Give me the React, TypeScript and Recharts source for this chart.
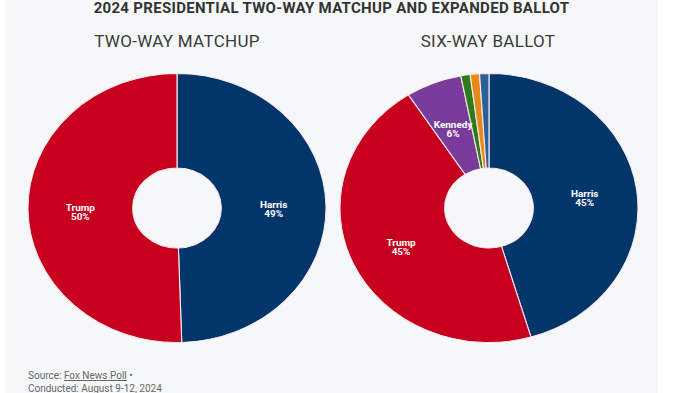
import { PieChart, Pie, Cell } from 'recharts';

const twoWayNames = ['Harris', 'Trump'];
const twoWayValues = [49, 50];
const twoWayColors = ['#02366b', '#c6001e'];

const sixWayNames = ['Harris', 'Trump', 'Kennedy', 'Stein', 'Oliver', 'West'];
const sixWayValues = [45, 45, 6, 1, 1, 1];
const sixWayColors = ['#02366b', '#c6001e', '#7a3c9a', '#2c7c1c', '#e5891b', '#2c6197'];

const RAD = Math.PI / 180;
const PANEL = '#f6f7f9';

function renderLabel(props: any) {
  const { cx, cy, midAngle, innerRadius, outerRadius, name, value } = props;
  if (value < 5) return null;
  const r = (innerRadius + outerRadius) / 2;
  const x = cx + r * Math.cos(-midAngle * RAD);
  const y = cy + r * Math.sin(-midAngle * RAD);
  const common = {
    x,
    textAnchor: 'middle' as const,
    fill: '#fff',
    fontSize: 9,
    fontWeight: 700,
    fontFamily: 'Roboto, sans-serif',
  };
  return (
    <g>
      <text {...common} y={y + 1.5}>{name}</text>
      <text {...common} y={y + 10.5}>{value}%</text>
    </g>
  );
}

function Donut({ names, values, colors, centerX }: { names: string[]; values: number[]; colors: string[]; centerX: number }) {
  const data = names.map((name, i) => ({ name, value: values[i] }));
  return (
    <div
      style={{
        position: 'absolute',
        left: centerX - 150,
        top: 67.5,
        width: 300,
        height: 280,
        transform: 'scaleX(1.108)',
        transformOrigin: '150px 140px',
      }}
    >
      <PieChart
        width={300}
        height={280}
        margin={{ top: 0, right: 0, bottom: 0, left: 0 }}
        style={{ overflow: 'visible' }}
      >
        <Pie
          data={data}
          dataKey="value"
          nameKey="name"
          cx={150}
          cy={140}
          innerRadius={40}
          outerRadius={134.5}
          startAngle={90}
          endAngle={-270}
          stroke="#fbe9ec"
          strokeWidth={1}
          label={renderLabel}
          labelLine={false}
          isAnimationActive={false}
        >
          {data.map((d, i) => (
            <Cell key={d.name} fill={colors[i]} />
          ))}
        </Pie>
      </PieChart>
    </div>
  );
}

export default function App() {
  return (
    <div
      style={{
        position: 'absolute',
        left: 0,
        top: 0,
        width: 700,
        height: 393,
        background: '#fff',
        overflow: 'hidden',
        fontFamily: 'Roboto, sans-serif',
      }}
    >
      <div style={{ position: 'absolute', left: 5, top: 0, width: 653, height: 393, background: PANEL }} />
      <div
        style={{
          position: 'absolute',
          left: 5,
          top: 1,
          width: 653,
          textAlign: 'center',
          fontSize: 15,
          lineHeight: '15px',
          letterSpacing: 0.3,
          fontWeight: 700,
          color: '#333',
        }}
      >
        2024 PRESIDENTIAL TWO-WAY MATCHUP AND EXPANDED BALLOT
      </div>
      <div
        style={{
          position: 'absolute',
          left: 177 - 150,
          top: 33,
          width: 300,
          textAlign: 'center',
          fontSize: 17,
          lineHeight: '17px',
          letterSpacing: 0.3,
          color: '#3a3a3a',
        }}
      >
        TWO-WAY MATCHUP
      </div>
      <div
        style={{
          position: 'absolute',
          left: 488 - 150,
          top: 33,
          width: 300,
          textAlign: 'center',
          fontSize: 17,
          lineHeight: '17px',
          letterSpacing: 0.3,
          color: '#3a3a3a',
        }}
      >
        SIX-WAY BALLOT
      </div>
      <Donut names={twoWayNames} values={twoWayValues} colors={twoWayColors} centerX={177} />
      <Donut names={sixWayNames} values={sixWayValues} colors={sixWayColors} centerX={489} />
      <div
        style={{
          position: 'absolute',
          left: 28,
          top: 370,
          fontSize: 10,
          lineHeight: '12.5px',
          color: '#666',
        }}
      >
        Source: <span style={{ textDecoration: 'underline' }}>Fox News Poll</span> •
        <br />
        Conducted: August 9-12, 2024
      </div>
    </div>
  );
}
